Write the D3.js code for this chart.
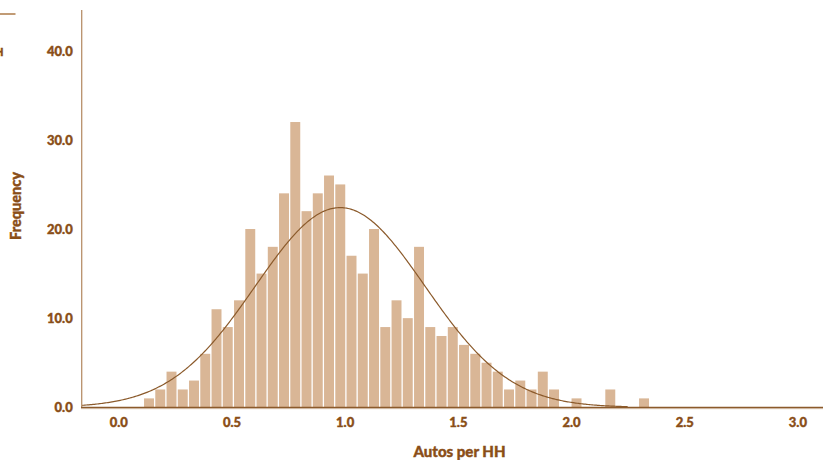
<!DOCTYPE html>
<html>
<head>
<meta charset="utf-8">
<script src="https://cdn.jsdelivr.net/npm/d3@7"></script>
<style>
  html, body { margin: 0; padding: 0; background: #ffffff; }
  svg { display: block; }
  text { font-family: Lato, "Open Sans", sans-serif; font-weight: 900; }
</style>
</head>
<body>
<svg id="chart" width="823" height="460"></svg>
<script>
// ---------- data ----------
const counts = [1,2,4,2,3,6,11,9,12,20,15,18,24,32,22,24,26,25,17,15,20,9,12,10,18,9,8,9,7,6,5,4,2,3,2,4,2,0,1,0,0,2,0,0,1];
const binStart = 0.111;
const binWidth = 0.0497;
const xTicks = [0.0, 0.5, 1.0, 1.5, 2.0, 2.5, 3.0];
const yTicks = [0, 10, 20, 30, 40];
const curveMean = 0.98;
const curveSd = 0.375;
const curvePeak = 22.4;
const curveRange = [-0.16, 2.25];
const xTitle = "Autos per HH";
const yTitle = "Frequency";

// ---------- layout ----------
const textColor = "#8a4e17";
const barColor = "#d9b696";
const lineColor = "#8b5a2b";

const svg = d3.select("#chart");
const x = d3.scaleLinear().domain([-0.1617, 3.113]).range([81.7, 823]);
const y = d3.scaleLinear().domain([0, 40]).range([407.3, 50.7]);

const bins = counts.map((c, i) => ({ x0: binStart + i * binWidth, x1: binStart + (i + 1) * binWidth, count: c }));

// bars
svg.append("g").selectAll("rect")
  .data(bins.filter(d => d.count > 0))
  .join("rect")
  .attr("x", d => x(d.x0) + 0.6)
  .attr("width", d => x(d.x1) - x(d.x0) - 1.3)
  .attr("y", d => y(d.count))
  .attr("height", d => y(0) - y(d.count))
  .attr("fill", barColor);

// normal curve
const curvePts = d3.range(0, 401).map(i => {
  const xv = curveRange[0] + (curveRange[1] - curveRange[0]) * i / 400;
  const z = (xv - curveMean) / curveSd;
  return [xv, curvePeak * Math.exp(-0.5 * z * z)];
});
svg.append("path")
  .datum(curvePts)
  .attr("fill", "none")
  .attr("stroke", lineColor)
  .attr("stroke-width", 1.2)
  .attr("d", d3.line().x(d => x(d[0])).y(d => y(d[1])));

// y axis line
svg.append("line")
  .attr("x1", 81.7).attr("x2", 81.7)
  .attr("y1", 10).attr("y2", 407.3)
  .attr("stroke", "#b8906a").attr("stroke-width", 1.3);

// x axis line
svg.append("line")
  .attr("x1", 81).attr("x2", 823)
  .attr("y1", 408.6).attr("y2", 408.6)
  .attr("stroke", "#e4d6c8").attr("stroke-width", 1.2);
svg.append("line")
  .attr("x1", 81).attr("x2", 823)
  .attr("y1", 407.5).attr("y2", 407.5)
  .attr("stroke", lineColor).attr("stroke-width", 1.3);

function styleText(sel, size) {
  sel.attr("fill", textColor)
    .attr("stroke", textColor)
    .attr("stroke-width", 0.4)
    .style("font-size", size)
    .style("font-family", "Lato, sans-serif")
    .style("font-weight", "900");
}

// x tick labels via axis
const xAxis = d3.axisBottom(x).tickValues(xTicks).tickFormat(d3.format(".1f")).tickSize(0).tickPadding(0);
const gx = svg.append("g").attr("transform", "translate(0,416)").call(xAxis);
gx.select(".domain").remove();
gx.selectAll("text").attr("dy", null).attr("y", 11.3).call(styleText, "13px");

// y tick labels via axis
const yAxis = d3.axisLeft(y).tickValues(yTicks).tickFormat(d3.format(".1f")).tickSize(0).tickPadding(9);
const gy = svg.append("g").attr("transform", "translate(81.7,0)").call(yAxis);
gy.select(".domain").remove();
gy.selectAll("text").attr("dy", "0.34em").call(styleText, "13px");

// axis titles
svg.append("text")
  .attr("x", 459.5).attr("y", 456.5)
  .attr("text-anchor", "middle")
  .call(styleText, "15px")
  .text(xTitle);

svg.append("text")
  .attr("transform", "translate(20.5,206) rotate(-90)")
  .attr("text-anchor", "middle")
  .call(styleText, "14.5px")
  .text(yTitle);

// clipped legend fragment at top-left
svg.append("line")
  .attr("x1", 0).attr("x2", 15.5)
  .attr("y1", 14).attr("y2", 14)
  .attr("stroke", "#a0652a").attr("stroke-width", 1.3);
svg.append("text")
  .attr("x", 3.5).attr("y", 56)
  .attr("text-anchor", "end")
  .call(styleText, "11px")
  .text("HH");
</script>
</body>
</html>
